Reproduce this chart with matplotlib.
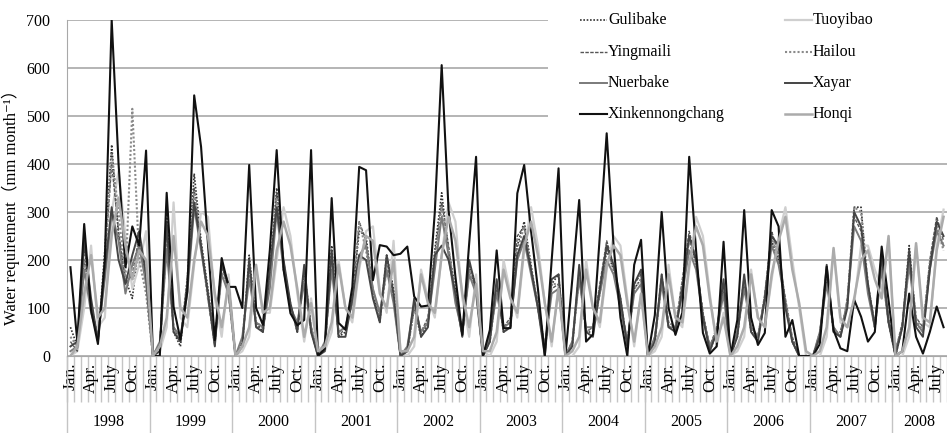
import numpy as np
import matplotlib
matplotlib.use("Agg")
import matplotlib.pyplot as plt
import matplotlib.transforms as mtransforms
from matplotlib.lines import Line2D
from matplotlib.patches import Rectangle

plt.rcParams['font.family'] = ['Liberation Serif', 'DejaVu Serif', 'Noto Sans CJK JP']

# Місяці: січень 1998 - серпень 2008
years = ['1998', '1999', '2000', '2001', '2002', '2003', '2004', '2005', '2006', '2007', '2008']
month_names = ['Jan.', '', '', 'Apr.', '', '', 'July', '', '', 'Oct.', '', '']
n_months = 128

# Потреба у воді, мм/місяць
gulibake = [60, 20, 230, 100, 30, 220, 440, 250, 160, 120, 240, 180,
            10, 10, 300, 50, 20, 160, 380, 240, 140, 30, 190, 140,
            5, 20, 210, 70, 50, 170, 350, 180, 110, 50, 180, 60,
            5, 10, 230, 40, 50, 120, 260, 250, 130, 70, 210, 140,
            0, 10, 100, 40, 70, 220, 340, 220, 140, 50, 190, 150,
            0, 30, 150, 50, 60, 230, 280, 190, 100, 10, 150, 170,
            0, 20, 170, 50, 50, 130, 220, 180, 120, 20, 140, 160,
            0, 30, 160, 60, 60, 140, 250, 190, 90, 10, 50, 150,
            0, 40, 160, 50, 40, 120, 240, 200, 110, 30, 0, 0,
            0, 40, 180, 50, 50, 110, 310, 310, 140, 60, 200, 70,
            0, 60, 230, 70, 50, 190, 270, 230]

tuoyibao = [0, 10, 100, 230, 60, 80, 300, 385, 250, 140, 190, 260,
            10, 10, 60, 320, 80, 60, 190, 300, 290, 120, 40, 170,
            0, 10, 40, 180, 90, 90, 200, 310, 250, 130, 30, 120,
            20, 10, 50, 200, 100, 70, 180, 260, 270, 140, 90, 240,
            10, 0, 20, 180, 120, 80, 210, 320, 280, 120, 40, 170,
            10, 0, 30, 200, 130, 80, 220, 310, 230, 110, 20, 150,
            0, 0, 20, 200, 100, 60, 180, 250, 230, 120, 20, 130,
            0, 10, 40, 190, 80, 60, 180, 290, 250, 130, 20, 90,
            0, 10, 40, 180, 80, 60, 160, 250, 310, 200, 100, 0,
            0, 0, 40, 220, 70, 60, 110, 230, 230, 180, 140, 240,
            0, 0, 40, 230, 70, 60, 230, 305]

yingmaili = [30, 10, 200, 110, 40, 200, 400, 260, 150, 170, 250, 160,
             0, 20, 260, 60, 30, 140, 350, 230, 120, 20, 200, 130,
             0, 30, 180, 60, 60, 160, 340, 200, 100, 60, 170, 50,
             0, 20, 210, 40, 60, 110, 280, 240, 140, 80, 200, 120,
             0, 10, 110, 50, 80, 210, 320, 230, 120, 40, 180, 140,
             0, 40, 140, 60, 80, 250, 270, 180, 110, 20, 140, 150,
             0, 30, 180, 50, 60, 150, 240, 190, 110, 30, 150, 170,
             0, 40, 170, 70, 60, 160, 260, 200, 90, 20, 60, 140,
             0, 50, 150, 60, 40, 130, 260, 210, 120, 40, 0, 0,
             0, 50, 160, 60, 40, 120, 290, 260, 150, 70, 190, 80,
             10, 70, 210, 80, 60, 200, 290, 240]

hailou = [40, 20, 200, 100, 40, 190, 420, 300, 160, 515, 200, 130,
          0, 20, 240, 60, 30, 160, 340, 230, 120, 30, 180, 130,
          0, 30, 190, 70, 60, 160, 330, 190, 100, 60, 170, 60,
          0, 20, 200, 50, 60, 120, 280, 220, 130, 80, 180, 120,
          0, 10, 100, 50, 70, 200, 310, 220, 130, 50, 180, 140,
          0, 30, 140, 60, 70, 220, 270, 180, 110, 10, 150, 150,
          0, 30, 170, 50, 60, 140, 230, 180, 110, 30, 140, 160,
          0, 30, 160, 70, 60, 150, 240, 190, 80, 20, 50, 150,
          0, 50, 160, 60, 40, 120, 250, 200, 110, 30, 0, 0,
          0, 40, 170, 50, 50, 110, 310, 300, 150, 60, 190, 70,
          10, 60, 200, 80, 50, 190, 270, 220]

nuerbake = [10, 20, 180, 90, 40, 160, 300, 240, 130, 190, 230, 150,
            0, 30, 220, 60, 40, 130, 310, 220, 130, 30, 170, 130,
            0, 40, 160, 70, 60, 140, 300, 180, 100, 70, 150, 60,
            0, 30, 180, 50, 60, 110, 210, 230, 140, 90, 180, 110,
            0, 20, 110, 50, 70, 180, 290, 210, 110, 50, 170, 130,
            0, 40, 130, 60, 70, 200, 240, 170, 100, 20, 130, 140,
            0, 30, 160, 60, 60, 130, 200, 170, 100, 30, 130, 150,
            0, 40, 150, 60, 60, 130, 220, 180, 80, 20, 50, 130,
            0, 50, 140, 60, 40, 120, 230, 190, 110, 30, 0, 0,
            0, 50, 150, 60, 40, 110, 270, 240, 130, 60, 180, 70,
            10, 60, 190, 70, 50, 180, 260, 230]

xayar = [20, 30, 240, 120, 30, 180, 310, 200, 150, 210, 260, 170,
         0, 10, 280, 50, 30, 150, 320, 230, 130, 20, 190, 150,
         0, 20, 200, 60, 50, 180, 310, 200, 110, 50, 190, 50,
         0, 10, 220, 40, 40, 120, 210, 200, 120, 70, 210, 130,
         0, 10, 120, 40, 60, 210, 230, 200, 130, 40, 200, 140,
         0, 30, 160, 50, 60, 210, 250, 180, 100, 0, 160, 170,
         0, 20, 190, 50, 40, 140, 230, 190, 120, 20, 150, 180,
         0, 30, 170, 60, 50, 140, 250, 200, 80, 10, 50, 160,
         0, 40, 170, 50, 30, 120, 250, 230, 100, 30, 0, 0,
         0, 40, 190, 50, 40, 100, 300, 270, 150, 60, 210, 70,
         0, 60, 220, 60, 40, 180, 280, 250]

xinkennongchang = [185, 30, 275, 95, 25, 200, 700, 400, 185, 270, 230, 428,
                   0, 0, 340, 103, 34, 134, 543, 436, 235, 33, 204, 144,
                   144, 100, 398, 100, 65, 220, 429, 180, 89, 64, 75, 429,
                   0, 15, 329, 69, 55, 144, 394, 387, 158, 231, 228, 210,
                   213, 228, 124, 103, 105, 300, 606, 304, 165, 44, 235, 415,
                   0, 54, 220, 58, 58, 339, 398, 260, 140, 0, 200, 391,
                   0, 160, 325, 30, 45, 250, 464, 230, 80, 0, 190, 242,
                   0, 85, 300, 100, 44, 90, 415, 220, 48, 5, 20, 238,
                   0, 75, 304, 80, 23, 48, 304, 270, 40, 75, 0, 0,
                   0, 25, 186, 54, 16, 10, 117, 82, 30, 50, 228, 116,
                   0, 10, 130, 40, 5, 50, 103, 60]

honqi = [0, 20, 130, 210, 80, 100, 250, 330, 230, 160, 220, 200,
         0, 20, 80, 250, 100, 80, 200, 280, 250, 130, 60, 150,
         0, 20, 60, 190, 90, 100, 220, 280, 230, 140, 40, 110,
         10, 20, 70, 190, 100, 80, 190, 250, 240, 130, 100, 200,
         10, 10, 40, 170, 110, 90, 210, 290, 240, 130, 60, 150,
         10, 10, 50, 180, 120, 90, 230, 280, 210, 110, 30, 140,
         0, 10, 40, 180, 100, 70, 190, 230, 210, 110, 30, 130,
         0, 20, 60, 170, 80, 70, 190, 270, 230, 120, 30, 80,
         0, 20, 60, 170, 80, 60, 170, 240, 290, 180, 110, 10,
         0, 10, 60, 225, 80, 60, 120, 200, 220, 160, 120, 250,
         0, 10, 60, 235, 80, 70, 220, 290]

# Порядок як у легенді (по рядках)
series = [
    ("Gulibake", gulibake, dict(color="#333333", ls=(0, (1, 1)), lw=1.2)),
    ("Tuoyibao", tuoyibao, dict(color="#cfcfcf", ls="-", lw=1.6)),
    ("Yingmaili", yingmaili, dict(color="#555555", ls=(0, (2.5, 1)), lw=1.0)),
    ("Hailou", hailou, dict(color="#8a8a8a", ls=(0, (1, 1)), lw=1.5)),
    ("Nuerbake", nuerbake, dict(color="#7a7a7a", ls="-", lw=1.4)),
    ("Xayar", xayar, dict(color="#444444", ls="-", lw=1.4)),
    ("Xinkennongchang", xinkennongchang, dict(color="#111111", ls="-", lw=1.5)),
    ("Honqi", honqi, dict(color="#ababab", ls="-", lw=1.8)),
]

W, H = 947, 433
fig = plt.figure(figsize=(W / 100, H / 100), dpi=100)
ax = fig.add_axes([67 / W, 1 - 356 / H, 880 / W, 336 / H])

x = np.arange(n_months) + 0.5
for name, vals, st in series:
    ax.plot(x, vals, zorder=2, **st)

ax.set_xlim(0, n_months)
ax.set_ylim(0, 700)
ax.set_yticks(range(0, 701, 100))
ax.yaxis.grid(True, color="#a8a8a8", lw=1.2)
ax.set_axisbelow(True)
ax.tick_params(axis="y", length=0, pad=12, labelsize=11.5)
for s in ["top", "right"]:
    ax.spines[s].set_visible(False)
ax.spines["left"].set_color("#a8a8a8")
ax.spines["bottom"].set_color("#a8a8a8")

# поділки між місяцями та підписи місяців
ax.set_xticks(np.arange(0, n_months + 1))
ax.set_xticklabels([])
pos = [i + 0.5 for i in range(n_months) if month_names[i % 12]]
labs = [month_names[i % 12] for i in range(n_months) if month_names[i % 12]]
ax.set_xticks(pos, labels=labs, minor=True)
ax.tick_params(axis="x", which="major", length=33, width=1, color="#c4c4c4", direction="out")
ax.tick_params(axis="x", which="minor", length=0, pad=5, labelsize=12.5, labelrotation=90)

# роки
trans = mtransforms.blended_transform_factory(ax.transData, ax.transAxes)
for k, yr in enumerate(years):
    start = k * 12
    ax.plot([start, start], [0, -80 / 336], transform=trans, clip_on=False,
            color="#c4c4c4", lw=1)
    width = min(12, n_months - start)
    ax.text(start + width / 2, -(422 - 356) / 336, yr, transform=trans,
            ha="center", va="center", fontsize=11.5)

ax.set_ylabel("Water requirement（mm month⁻¹）", fontsize=12)
ax.yaxis.set_label_coords(-(67 - 20) / 880, 1 - (203 - 20) / 336)

# легенда
ax.add_patch(Rectangle((548 / W, 1 - 128 / H), (W - 548) / W, 128 / H,
                       transform=fig.transFigure, facecolor="white",
                       edgecolor="none", zorder=2.5, clip_on=False))
rows = [20, 52, 83, 114]
cols = [(580, 607), (785, 812)]
for j, (name, vals, st) in enumerate(series):
    r, c = j // 2, j % 2
    x0, x1 = cols[c]
    yy = 1 - rows[r] / H
    fig.add_artist(Line2D([x0 / W, x1 / W], [yy, yy], transform=fig.transFigure, **st))
    fig.text((x1 + 1) / W, yy, name, ha="left", va="center", fontsize=11.5)

fig.savefig("out.png", dpi=100)
